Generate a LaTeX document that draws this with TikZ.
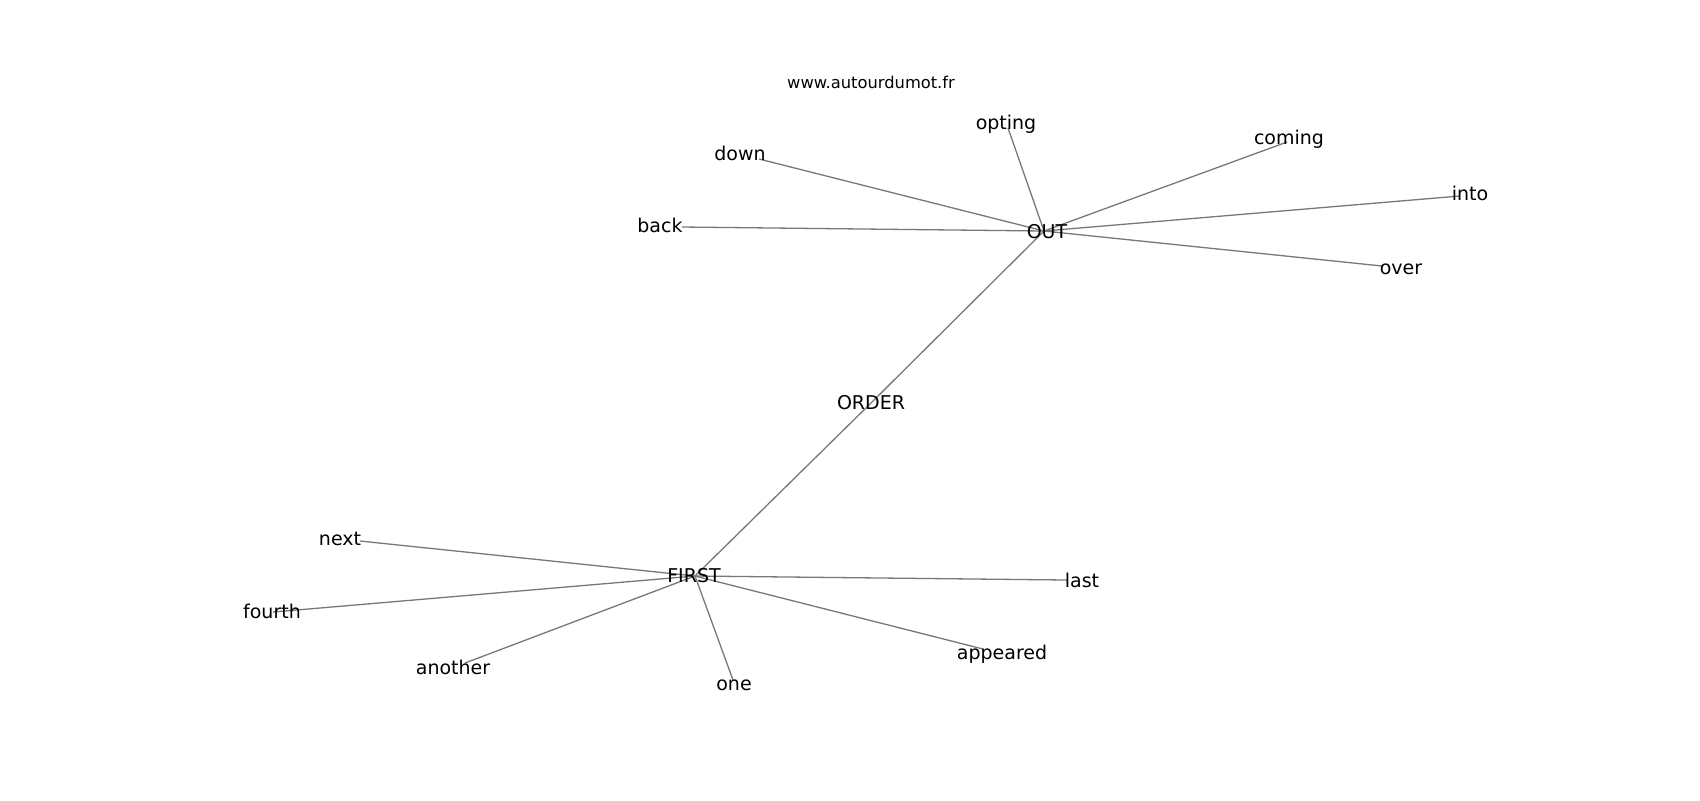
\documentclass[tikz,border=0pt]{standalone}
\usepackage{fontspec}
\setmainfont{DejaVu Sans}
\definecolor{edgegray}{RGB}{120,120,120}
\tikzset{
  lbl/.style={inner sep=0pt, font=\fontsize{9.5pt}{11pt}\selectfont, text=black},
  wmark/.style={font=\fontsize{8.15pt}{10pt}\selectfont, inner sep=0pt, text=black},
  edge/.style={draw=edgegray, line width=0.65pt}
}
\begin{document}
\begin{tikzpicture}[x=0.5pt, y=-0.5pt]
\useasboundingbox[fill=white] (0,0) rectangle (1700,800);
% node points
\coordinate (pOUT) at (1044,231);
\coordinate (popting) at (1008,128);
\coordinate (pcoming) at (1287,142);
\coordinate (pdown) at (759,159);
\coordinate (pback) at (682,227);
\coordinate (pinto) at (1460,196);
\coordinate (pover) at (1382,266);
\coordinate (pORDER) at (871,403);
\coordinate (pFIRST) at (695,576);
\coordinate (pnext) at (360,541);
\coordinate (pfourth) at (273,612);
\coordinate (panother) at (465,663);
\coordinate (pone) at (733,680);
\coordinate (pappeared) at (983,649);
\coordinate (plast) at (1067,580);
% edges
\draw[edge] (pOUT) -- (popting);
\draw[edge] (pOUT) -- (pcoming);
\draw[edge] (pOUT) -- (pdown);
\draw[edge] (pOUT) -- (pback);
\draw[edge] (pOUT) -- (pinto);
\draw[edge] (pOUT) -- (pover);
\draw[edge] (pOUT) -- (pORDER);
\draw[edge] (pORDER) -- (pFIRST);
\draw[edge] (pFIRST) -- (pnext);
\draw[edge] (pFIRST) -- (pfourth);
\draw[edge] (pFIRST) -- (panother);
\draw[edge] (pFIRST) -- (pone);
\draw[edge] (pFIRST) -- (pappeared);
\draw[edge] (pFIRST) -- (plast);
% labels
\node[wmark] (wm) at (871,82) {www.autourdumot.fr};
\node[lbl] (tOUT) at (1047,232) {OUT};
\node[lbl] (topting) at (1006,124) {opting};
\node[lbl] (tcoming) at (1289,139) {coming};
\node[lbl] (tdown) at (740,153) {down};
\node[lbl] (tback) at (660,225) {back};
\node[lbl] (tinto) at (1470,193) {into};
\node[lbl] (tover) at (1401,269) {over};
\node[lbl] (tORDER) at (871,403) {ORDER};
\node[lbl] (tFIRST) at (694,576) {FIRST};
\node[lbl] (tnext) at (340,539) {next};
\node[lbl] (tfourth) at (272,611) {fourth};
\node[lbl] (tanother) at (453,667) {another};
\node[lbl] (tone) at (734,685) {one};
\node[lbl] (tappeared) at (1002,654) {appeared};
\node[lbl] (tlast) at (1082,580) {last};
\end{tikzpicture}
\end{document}
